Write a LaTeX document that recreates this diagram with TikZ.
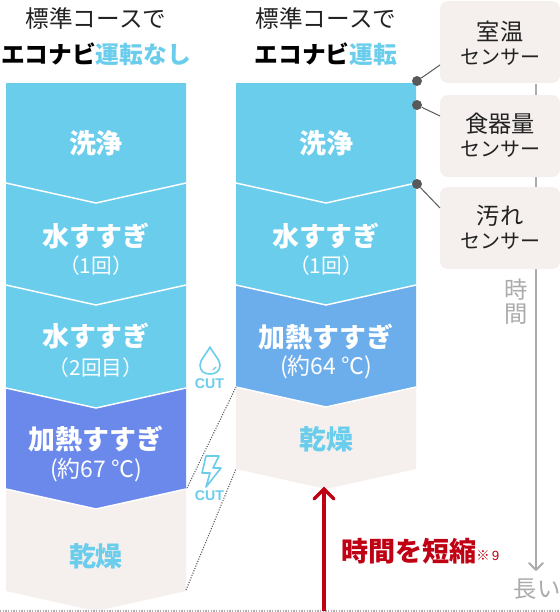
\documentclass[tikz,border=0pt]{standalone}
\usepackage{fontspec}
\setmainfont{Noto Sans CJK JP}
\newfontfamily\latinsans{Liberation Sans}
\definecolor{skyc}{HTML}{6BCDEC}
\definecolor{violetc}{HTML}{6B88EB}
\definecolor{bluec}{HTML}{6CADEC}
\definecolor{beigec}{HTML}{F5F0ED}
\definecolor{inkc}{HTML}{222222}
\definecolor{dotc}{HTML}{595959}
\definecolor{timec}{HTML}{ABABAB}
\definecolor{redc}{HTML}{C00013}
\newcommand{\fs}[1]{\fontsize{#1}{#1}\selectfont}
\tikzset{
  x=0.75pt,y=-0.75pt,
  title/.style={text=inkc,inner sep=0pt,font=\fs{17.7}},
  titleb/.style={inner sep=0pt,font=\fs{17.8}\bfseries},
  stepname/.style={text=white,inner sep=0pt,font=\fs{20.2}\bfseries},
  stepnote/.style={text=white,inner sep=0pt,font=\fs{15.5}},
  tempnote/.style={text=white,inner sep=0pt,font=\fs{17.2}},
  dryname/.style={text=skyc,inner sep=0pt,font=\fs{20.2}\bfseries},
  sensorbox/.style={fill=beigec,rounded corners=6pt,minimum width=90pt,inner sep=0pt},
  sensorbig/.style={text=inkc,inner sep=0pt,font=\fs{17.4}},
  sensorsmall/.style={text=inkc,inner sep=0pt,font=\fs{15}},
  senspt/.style={circle,fill=dotc,minimum size=7.5pt,inner sep=0pt},
  sensline/.style={draw=dotc,line width=0.75pt},
  sep/.style={draw=white,line width=1.1pt},
  cutlabel/.style={text=skyc,inner sep=0pt,font=\latinsans\fs{10.6}\bfseries},
  timetext/.style={text=timec,inner sep=0pt,font=\fs{17.5}},
  dotline/.style={draw=dotc,line width=0.8pt,dotted,dash pattern=on 0.8pt off 1.1pt},
  icon/.style={draw=skyc,line width=1.2pt,line join=round,line cap=round},
}
\newcommand{\seg}[5]{% x-left, top edge, bottom edge, colour, tipshift
  \fill[#4] (#1,#2) -- (#1+90,#2+20) -- (#1+180,#2) -- (#1+180,#3) -- (#1+90,#3+#5) -- (#1,#3) -- cycle;}
\begin{document}
\begin{tikzpicture}
\useasboundingbox[fill=white] (0,0) rectangle (560,612);

% time axis
\coordinate (tstart) at (536,84);
\coordinate (tend) at (536,570);
\draw[timec,line width=1.5pt] (tstart) -- (tend);
\draw[timec,line width=1.5pt,line cap=round,line join=round] (529,563) -- (tend) -- (543,563);

% left column
\fill[skyc] (6,83) -- (186,83) -- (186,183) -- (96,203) -- (6,183) -- cycle;
\seg{6}{183}{285}{skyc}{20}
\seg{6}{285}{388}{skyc}{20}
\seg{6}{388}{489}{violetc}{20}
\seg{6}{489}{591}{beigec}{20}
\draw[sep] (6,183) -- (96,203) -- (186,183);
\draw[sep] (6,285) -- (96,305) -- (186,285);
\draw[sep] (6,388) -- (96,408) -- (186,388);
\draw[sep] (6,489) -- (96,509) -- (186,489);

% right column
\fill[skyc] (236,83) -- (416,83) -- (416,183) -- (326,203) -- (236,183) -- cycle;
\seg{236}{183}{285}{skyc}{20}
\seg{236}{285}{387}{bluec}{20}
\seg{236}{387}{469}{beigec}{20}
\draw[sep] (236,183) -- (326,203) -- (416,183);
\draw[sep] (236,285) -- (326,305) -- (416,285);
\draw[sep] (236,387) -- (326,407) -- (416,387);

% titles
\node[title] (t1) at (96,18) {標準コースで};
\node[titleb] (t2) at (96,54) {エコナビ\textcolor{skyc}{運転なし}};
\node[title] (t3) at (326,18) {標準コースで};
\node[titleb] (t4) at (326,54) {エコナビ\textcolor{skyc}{運転}};

% left labels
\node[stepname] (l1) at (96,143) {洗浄};
\node[stepname] (l2) at (96,236) {水すすぎ};
\node[stepnote] (l2n) at (96,266) {（1回）};
\node[stepname] (l3) at (96,336) {水すすぎ};
\node[stepnote] (l3n) at (96,368) {（2回目）};
\node[stepname] (l4) at (96,439) {加熱すすぎ};
\node[tempnote] (l4n) at (96,470) {(約67 ℃)};
\node[dryname] (l5) at (96,556) {乾燥};

% right labels
\node[stepname] (r1) at (326,143) {洗浄};
\node[stepname] (r2) at (326,236) {水すすぎ};
\node[stepnote] (r2n) at (326,266) {（1回）};
\node[stepname] (r3) at (326,337) {加熱すすぎ};
\node[tempnote] (r3n) at (326,367) {(約64 ℃)};
\node[dryname] (r4) at (326,439) {乾燥};

% sensors
\node[sensorbox,minimum height=61.5pt] (s1) at (500,42) {};
\node[sensorbox,minimum height=61.5pt] (s2) at (500,136) {};
\node[sensorbox,minimum height=61.5pt] (s3) at (500,228) {};
\node[sensorbig] (s1a) at (500,31) {室温};
\node[sensorsmall] (s1b) at (500,57) {センサー};
\node[sensorbig] (s2a) at (500,124) {食器量};
\node[sensorsmall] (s2b) at (500,149) {センサー};
\node[sensorbig] (s3a) at (500,216) {汚れ};
\node[sensorsmall] (s3b) at (500,241) {センサー};
\node[senspt] (p1) at (417,81) {};
\node[senspt] (p2) at (417,105) {};
\node[senspt] (p3) at (417,184) {};
\coordinate (c1) at (440,65);
\coordinate (c2) at (440,116);
\coordinate (c3) at (440,208);
\draw[sensline] (p1) -- (c1);
\draw[sensline] (p2) -- (c2);
\draw[sensline] (p3) -- (c3);

% time labels
\node[timetext] (tm1) at (516,290) {時};
\node[timetext] (tm2) at (516,314) {間};
\node[timetext] (tm3) at (537,589) {長い};

% dotted links
\coordinate (a1) at (187,488);
\coordinate (a2) at (236,387);
\coordinate (b1) at (186,590);
\coordinate (b2) at (236,469);
\draw[dotline] (a1) -- (a2);
\draw[dotline] (b1) -- (b2);
\coordinate (g1) at (0,611);
\coordinate (g2) at (560,611);
\draw[draw=timec,line width=0.9pt,dash pattern=on 0.9pt off 1.1pt] (g1) -- (g2);

% icons
\draw[icon] (210,347) .. controls (207,353) and (200,360) .. (200,365)
  .. controls (200,371) and (204,374) .. (210,374)
  .. controls (216,374) and (220,371) .. (220,365)
  .. controls (220,360) and (213,353) .. (210,347) -- cycle;
\draw[icon,line width=0.9pt] (213,370) -- (216,367);
\node[cutlabel] (cut1) at (209.5,384) {CUT};
\draw[icon] (206,456) -- (219,456) -- (213,468) -- (221,468) -- (206,487) -- (210,473) -- (202,473) -- cycle;
\node[cutlabel] (cut2) at (209.5,496) {CUT};

% red arrow
\coordinate (ra) at (324,611);
\coordinate (rb) at (324,489);
\draw[redc,line width=2.4pt] (ra) -- (rb);
\draw[redc,line width=2.4pt,line cap=round,line join=miter] (314,499) -- (rb) -- (334,499);
\node[inner sep=0pt,text=redc,font=\fs{20.3}\bfseries,anchor=west] (short) at (341,551) {時間を短縮};
\node[inner sep=0pt,text=redc,anchor=west,font=\fs{10}] (note) at (476,556) {※\,{\latinsans 9}};
\end{tikzpicture}
\end{document}
